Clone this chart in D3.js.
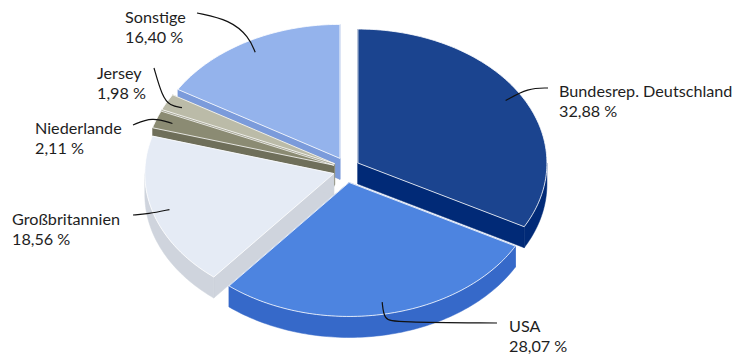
<!DOCTYPE html>
<html>
<head>
<meta charset="utf-8">
<script src="https://cdn.jsdelivr.net/npm/d3@7"></script>
<style>
  html, body { margin: 0; padding: 0; background: #ffffff; }
  svg { display: block; }
  text { font-family: Lato, "Noto Sans", sans-serif; font-size: 16.2px; fill: #1e1e1e; }
</style>
</head>
<body>
<svg id="chart" width="752" height="358"></svg>
<script>
// Anteile nach Herkunftsland (in %)
const categories = ["Bundesrep. Deutschland", "USA", "Großbritannien", "Niederlande", "Jersey", "Sonstige"];
const shares = [32.88, 28.07, 18.56, 2.11, 1.98, 16.40];
const topColors = ["#1b448f", "#4d84e0", "#e5ebf5", "#8b8b73", "#bbbba8", "#94b3ec"];
const sideColors = ["#012a77", "#3669c9", "#cfd4dd", "#6f6f5a", "#a3a390", "#7b9bdb"];

// Ellipse geometry of the tilted pie
const geo = { cx: 346.5, cy: 169.7, rx: 189, ry: 134, depth: 21, explodeX: 13.3, explodeY: 13.0 };

// Label placement: text origin and leader route (outer points, inner end is on the slice)
const labelLayout = [
  { x: 559, y: 97,  leader: [[548, 88], [528, 88]] },
  { x: 509, y: 332, leader: [[497, 323], [396, 322], [384, 320]] },
  { x: 12,  y: 225, leader: [[133, 215], [148, 214]] },
  { x: 35,  y: 134, leader: [[133, 125], [152, 117]] },
  { x: 97,  y: 79,  leader: [[154, 68], [162, 96], [170, 106]] },
  { x: 125, y: 23,  leader: [[197, 13], [230, 20], [249, 37]] }
];

const de = d3.formatLocale({ decimal: ",", thousands: ".", grouping: [3], currency: ["", " €"] });
const fmt = de.format(".2f");

const svg = d3.select("#chart");
const arcs = d3.pie().sort(null).value(d => d)(shares);

function offsetOf(a) {
  const mid = (a.startAngle + a.endAngle) / 2;
  return [geo.explodeX * Math.sin(mid), -geo.explodeY * Math.cos(mid)];
}
function pt(a, r, off, dz) {
  return [geo.cx + off[0] + geo.rx * r * Math.sin(a), geo.cy + off[1] - geo.ry * r * Math.cos(a) + (dz || 0)];
}
const angleSteps = d3.scaleLinear();
function arcPoints(a0, a1, off, dz) {
  const n = Math.max(2, Math.ceil((a1 - a0) / 0.02));
  angleSteps.domain([0, n]).range([a0, a1]);
  return d3.range(n + 1).map(i => pt(angleSteps(i), 1, off, dz));
}
const line = d3.line();

// painter's order: slices further back first
const order = arcs.map((a, i) => i).sort((i, j) => {
  const mi = (arcs[i].startAngle + arcs[i].endAngle) / 2;
  const mj = (arcs[j].startAngle + arcs[j].endAngle) / 2;
  return Math.cos(mj) - Math.cos(mi);
});

const pieG = svg.append("g").attr("class", "pie");
order.forEach(i => {
  const a = arcs[i];
  const off = offsetOf(a);
  const g = pieG.append("g").attr("class", "slice");
  const apex = pt(0, 0, off, 0);
  const apexB = pt(0, 0, off, geo.depth);
  // radial walls
  [a.startAngle, a.endAngle].forEach(ang => {
    const rim = pt(ang, 1, off, 0), rimB = pt(ang, 1, off, geo.depth);
    g.append("path").attr("d", line([apex, rim, rimB, apexB]) + "Z")
      .attr("fill", sideColors[i]).attr("stroke", sideColors[i]).attr("stroke-width", 0.5);
  });
  // outer wall, front half only
  const lo = Math.max(a.startAngle, Math.PI / 2), hi = Math.min(a.endAngle, 3 * Math.PI / 2);
  if (hi > lo) {
    const topEdge = arcPoints(lo, hi, off, 0);
    const botEdge = arcPoints(lo, hi, off, geo.depth).reverse();
    g.append("path").attr("d", line(topEdge.concat(botEdge)) + "Z")
      .attr("fill", sideColors[i]).attr("stroke", sideColors[i]).attr("stroke-width", 0.5);
  }
  // top face
  const face = [apex].concat(arcPoints(a.startAngle, a.endAngle, off, 0));
  g.append("path").attr("d", line(face) + "Z")
    .attr("fill", topColors[i]).attr("stroke", "#ffffff").attr("stroke-width", 0.8);
});

// leader lines and labels
const leaderLine = d3.line().curve(d3.curveBasis);
const labelG = svg.append("g").attr("class", "labels");
arcs.forEach((a, i) => {
  const mid = (a.startAngle + a.endAngle) / 2;
  const inner = pt(mid, 0.91, offsetOf(a), 0);
  const L = labelLayout[i];
  labelG.append("path").attr("d", leaderLine(L.leader.concat([inner])))
    .attr("fill", "none").attr("stroke", "#111").attr("stroke-width", 1.2);
  const t = labelG.append("text").attr("x", L.x).attr("y", L.y);
  t.append("tspan").attr("x", L.x).text(categories[i]);
  t.append("tspan").attr("x", L.x).attr("dy", 19.5).text(fmt(shares[i]) + " %");
});
</script>
</body>
</html>
